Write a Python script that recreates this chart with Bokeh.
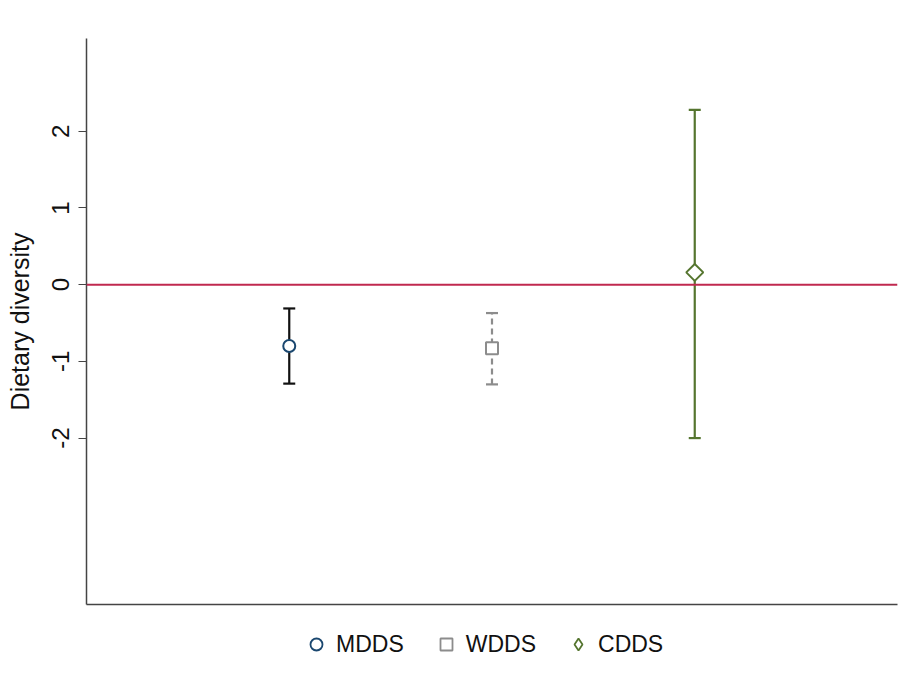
import math
from bokeh.plotting import figure
from bokeh.layouts import column
from bokeh.models import ColumnDataSource, Whisker, TeeHead, FixedTicker, Span, Legend, LegendItem, Range1d
from bokeh.embed import file_html
from bokeh.resources import INLINE

# Data
groups = ["MDDS", "WDDS", "CDDS"]
xpos = [1, 2, 3]
estimate = [-0.80, -0.83, 0.16]
lower = [-1.29, -1.30, -2.00]
upper = [-0.31, -0.37, 2.28]
y_ticks = [-2, -1, 0, 1, 2]
y_tick_labels = ["-2", "-1", "0", "1", "2"]

marker_colors = ["#1a476f", "#8c8c8c", "#55752f"]
bar_colors = ["#111111", "#8c8c8c", "#55752f"]
bar_dash = ["solid", "6 4", "solid"]
markers = ["circle", "square", "square"]
legend_markers = ["circle", "square", "diamond"]
marker_angles = [0, 0, math.pi / 4]
marker_sizes = [12, 12, 12]

FONT = "Liberation Sans"

p = figure(frame_width=811, frame_height=566, output_backend="svg", toolbar_location=None,
           x_range=Range1d(0, 4), y_range=Range1d(-4.17, 3.21),
           min_border_left=86, min_border_right=15, min_border_top=38, min_border_bottom=16)

p.grid.visible = False
p.outline_line_color = None
p.background_fill_color = "white"

# y axis
p.yaxis.ticker = FixedTicker(ticks=y_ticks)
p.yaxis.major_label_overrides = {t: s for t, s in zip(y_ticks, y_tick_labels)}
p.yaxis.axis_label = "Dietary diversity"
p.yaxis.axis_label_text_font = FONT
p.yaxis.axis_label_text_font_style = "normal"
p.yaxis.axis_label_text_font_size = "25px"
p.yaxis.axis_label_text_color = "#111111"
p.yaxis.axis_label_standoff = 16
p.yaxis.major_label_orientation = "vertical"
p.yaxis.major_label_text_font = FONT
p.yaxis.major_label_text_font_size = "24px"
p.yaxis.major_label_text_color = "#111111"
p.yaxis.major_label_standoff = 9
p.yaxis.major_tick_out = 8
p.yaxis.major_tick_in = 0
p.yaxis.minor_tick_line_color = None
p.yaxis.axis_line_color = "#444444"
p.yaxis.axis_line_width = 1.5
p.yaxis.major_tick_line_color = "#444444"
p.yaxis.major_tick_line_width = 1.2

# x axis: line only
p.xaxis.major_tick_line_color = None
p.xaxis.minor_tick_line_color = None
p.xaxis.major_label_text_font_size = "0px"
p.xaxis.axis_line_color = "#444444"
p.xaxis.axis_line_width = 1.5
p.xaxis.ticker = FixedTicker(ticks=[])

# zero reference line
p.add_layout(Span(location=0, dimension="width", line_color="#c0294f", line_width=2))

for i in range(len(groups)):
    src = ColumnDataSource(dict(x=[xpos[i]], y=[estimate[i]], lo=[lower[i]], hi=[upper[i]]))
    w = Whisker(source=src, base="x", lower="lo", upper="hi", dimension="height",
                line_color=bar_colors[i], line_width=2.2, line_dash=bar_dash[i],
                lower_head=TeeHead(size=12, line_color=bar_colors[i], line_width=2.2),
                upper_head=TeeHead(size=12, line_color=bar_colors[i], line_width=2.2))
    p.add_layout(w)
    p.scatter("x", "y", source=src, marker=markers[i], size=marker_sizes[i],
              angle=marker_angles[i],
              fill_color="white", line_color=marker_colors[i], line_width=2)

# legend strip below the plot
lg = figure(width=912, height=71, output_backend="svg", toolbar_location=None,
            x_range=Range1d(0, 1), y_range=Range1d(0, 1),
            x_axis_type=None, y_axis_type=None, min_border=0)
lg.grid.visible = False
lg.outline_line_color = None

items = []
for i in range(len(groups)):
    r = lg.scatter(x=[-5], y=[-5], marker=legend_markers[i], size=marker_sizes[i],
                   fill_color="white", line_color=marker_colors[i], line_width=1.8)
    items.append(LegendItem(label=groups[i], renderers=[r]))

legend = Legend(items=items, orientation="horizontal", location=(215, 32),
                label_text_font=FONT, label_text_font_size="23px", label_text_color="#111111",
                border_line_color=None, background_fill_alpha=0,
                spacing=27, glyph_width=30, glyph_height=30, label_standoff=5,
                margin=0, padding=0)
lg.add_layout(legend)

layout = column(p, lg, spacing=0)
open("out.html", "w").write(file_html(layout, INLINE))
